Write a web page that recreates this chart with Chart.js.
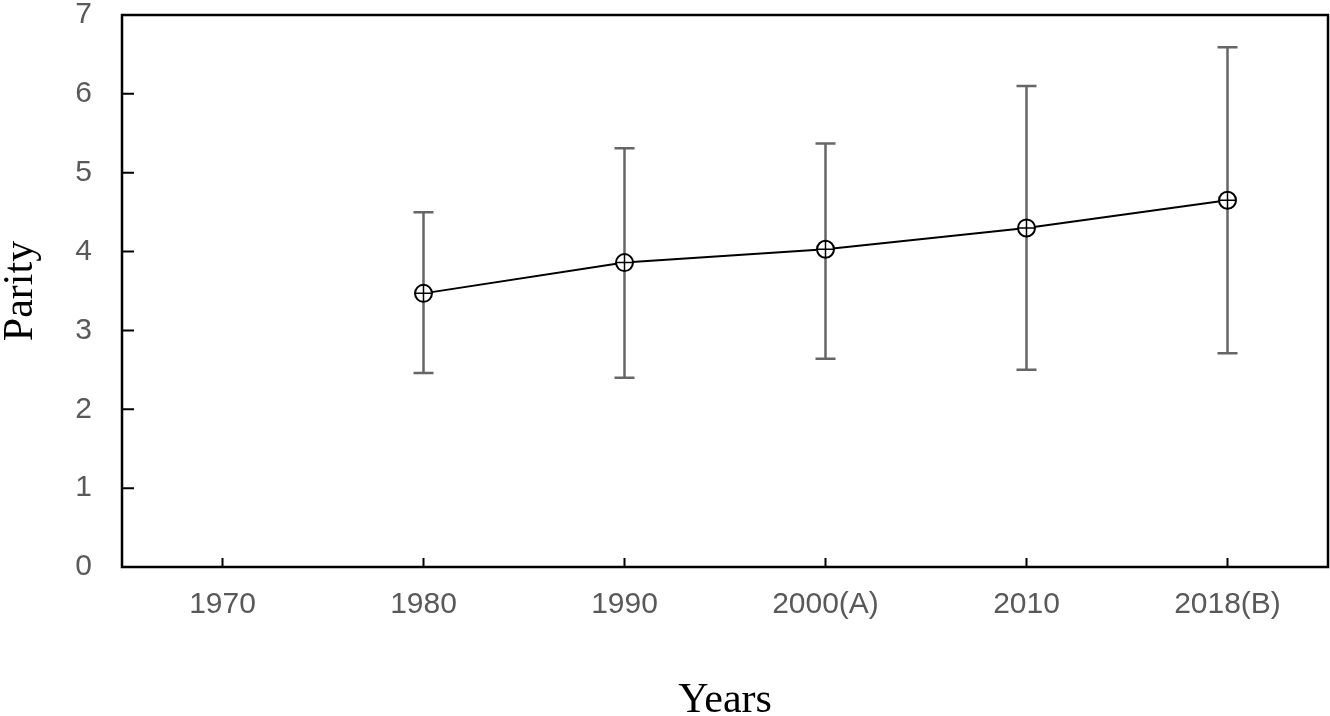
<!DOCTYPE html>
<html>
<head>
<meta charset="utf-8">
<script src="https://cdn.jsdelivr.net/npm/chart.js@4/dist/chart.umd.min.js"></script>
<style>
  html, body { margin: 0; padding: 0; background: #fff; }
  #wrap { width: 1330px; height: 716px; }
</style>
</head>
<body>
<div id="wrap"><canvas id="c" width="1330" height="716"></canvas></div>
<script>
const categories = ['1970', '1980', '1990', '2000(A)', '2010', '2018(B)'];
const meanParity = [null, 3.47, 3.86, 4.03, 4.30, 4.65];
const lowerParity = [null, 2.46, 2.40, 2.64, 2.50, 2.71];
const upperParity = [null, 4.50, 5.31, 5.37, 6.10, 6.59];
const yTicks = [0, 1, 2, 3, 4, 5, 6, 7];

const frameAndErrors = {
  id: 'frameAndErrors',
  beforeDatasetsDraw(chart) {
    const ctx = chart.ctx;
    const x = chart.scales.x, y = chart.scales.y;
    ctx.save();
    ctx.strokeStyle = '#666666';
    ctx.lineWidth = 2.5;
    for (let i = 0; i < categories.length; i++) {
      if (lowerParity[i] == null) continue;
      const px = x.getPixelForValue(i);
      const pl = y.getPixelForValue(lowerParity[i]);
      const pu = y.getPixelForValue(upperParity[i]);
      ctx.beginPath();
      ctx.moveTo(px, pl); ctx.lineTo(px, pu);
      ctx.moveTo(px - 10, pl); ctx.lineTo(px + 10, pl);
      ctx.moveTo(px - 10, pu); ctx.lineTo(px + 10, pu);
      ctx.stroke();
    }
    ctx.restore();
  },
  afterDraw(chart) {
    const ctx = chart.ctx;
    const a = chart.chartArea;
    const x = chart.scales.x, y = chart.scales.y;
    ctx.save();
    ctx.strokeStyle = '#000';
    ctx.lineWidth = 2.5;
    ctx.strokeRect(a.left, a.top, a.right - a.left, a.bottom - a.top);
    ctx.lineWidth = 2;
    ctx.beginPath();
    yTicks.forEach(v => {
      const py = y.getPixelForValue(v);
      ctx.moveTo(a.left, py); ctx.lineTo(a.left + 12, py);
    });
    categories.forEach((c, i) => {
      const px = x.getPixelForValue(i);
      ctx.moveTo(px, a.bottom); ctx.lineTo(px, a.bottom - 9);
    });
    ctx.stroke();
    ctx.restore();
  }
};

new Chart(document.getElementById('c'), {
  type: 'line',
  data: {
    labels: categories,
    datasets: [
      {
        data: meanParity,
        showLine: false,
        pointStyle: 'cross',
        pointRadius: 8.5,
        pointBorderWidth: 1.5,
        pointBorderColor: '#000'
      },
      {
        data: meanParity,
        borderColor: '#000',
        borderWidth: 2,
        pointStyle: 'circle',
        pointRadius: 8.5,
        pointBorderWidth: 2,
        pointBorderColor: '#000',
        pointBackgroundColor: '#fff',
        tension: 0,
        spanGaps: false
      }
    ]
  },
  options: {
    responsive: false,
    animation: false,
    events: [],
    layout: { padding: { top: 13, right: 2, left: 0, bottom: 0 }, autoPadding: false },
    plugins: { legend: { display: false }, tooltip: { enabled: false } },
    scales: {
      x: {
        type: 'category',
        offset: true,
        grid: { display: false, drawTicks: true, tickLength: 20 },
        border: { display: false },
        afterFit(s) { s.height = 149; },
        ticks: {
          padding: 0,
          color: '#595959',
          font: { family: '"Liberation Sans", Arial, sans-serif', size: 30, lineHeight: 1.2 },
          maxRotation: 0,
          autoSkip: false
        },
        title: {
          display: true,
          text: 'Years',
          color: '#000',
          font: { family: '"Liberation Serif", "Times New Roman", serif', size: 42, lineHeight: 1 },
          padding: { top: 0, bottom: -6 }
        }
      },
      y: {
        min: 0,
        max: 7,
        afterFit(s) { s.width = 122; },
        afterBuildTicks(s) { s.ticks = yTicks.map(v => ({ value: v })); },
        grid: { display: false, drawTicks: true, tickLength: 30 },
        border: { display: false },
        ticks: {
          padding: 0,
          color: '#595959',
          font: { family: '"Liberation Sans", Arial, sans-serif', size: 30, lineHeight: 1 }
        },
        title: {
          display: true,
          text: 'Parity',
          color: '#000',
          font: { family: '"Liberation Serif", "Times New Roman", serif', size: 42, lineHeight: 1 },
          padding: { top: 0, bottom: 0 }
        }
      }
    }
  },
  plugins: [frameAndErrors]
});
</script>
</body>
</html>
